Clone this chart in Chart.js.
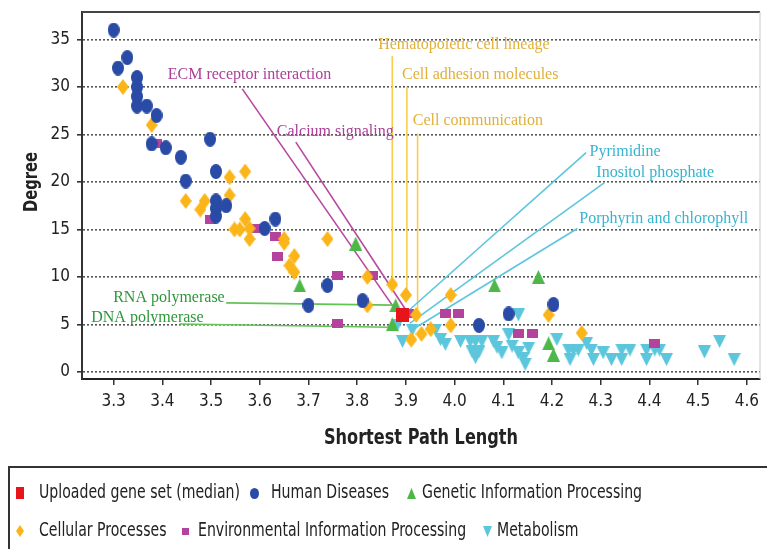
<!DOCTYPE html>
<html>
<head>
<meta charset="utf-8">
<script src="https://cdn.jsdelivr.net/npm/chart.js@4.4.0/dist/chart.umd.min.js"></script>
<style>
html, body { margin: 0; padding: 0; background: #fff; }
#wrap { width: 767px; height: 549px; position: relative; }
</style>
</head>
<body>
<div id="wrap"><canvas id="chart"></canvas></div>
<script>
var xTicks = [3.3, 3.4, 3.5, 3.6, 3.7, 3.8, 3.9, 4.0, 4.1, 4.2, 4.3, 4.4, 4.5, 4.6];
var yTicks = [0, 5, 10, 15, 20, 25, 30, 35];

var seriesNames = ['Uploaded gene set (median)', 'Human Diseases', 'Genetic Information Processing',
                   'Cellular Processes', 'Environmental Information Processing', 'Metabolism'];

var uploadedX = [3.893];
var uploadedY = [6.0];

var humanX = [3.300, 3.309, 3.328, 3.348, 3.348, 3.348, 3.348, 3.368, 3.388, 3.378, 3.407, 3.438, 3.448, 3.498,
              3.510, 3.510, 3.510, 3.510, 3.531, 3.610, 3.632, 3.739, 3.700, 3.811, 4.050, 4.111, 4.203];
var humanY = [36.0, 32.0, 33.1, 31.0, 30.0, 29.0, 28.0, 28.0, 27.0, 24.0, 23.6, 22.6, 20.1, 24.5,
              21.1, 18.0, 17.2, 16.4, 17.5, 15.1, 16.1, 9.1, 7.0, 7.5, 4.9, 6.1, 7.1];

var geneticX = [3.682, 3.797, 3.879, 3.872, 4.082, 4.172, 4.193, 4.203];
var geneticY = [9.1, 13.5, 7.0, 5.0, 9.1, 10.0, 3.0, 1.8];

var cellularX = [3.319, 3.378, 3.448, 3.478, 3.487, 3.538, 3.570, 3.538, 3.548, 3.559, 3.570, 3.579, 3.579, 3.650,
                 3.650, 3.671, 3.661, 3.671, 3.739, 3.821, 3.821, 3.872, 3.900, 3.921, 3.911, 3.932, 3.951, 3.992,
                 3.992, 4.193, 4.261];
var cellularY = [30.0, 26.0, 18.0, 17.1, 18.0, 20.5, 21.1, 18.6, 15.0, 15.0, 16.1, 15.1, 14.0, 14.0,
                 13.6, 12.2, 11.2, 10.5, 14.0, 10.0, 7.0, 9.2, 8.1, 6.0, 3.4, 4.0, 4.5, 8.1,
                 4.9, 6.0, 4.1];

var envX = [3.388, 3.499, 3.589, 3.633, 3.637, 3.760, 3.832, 3.760, 3.905, 3.981, 4.009, 4.131, 4.160, 4.411];
var envY = [24.0, 16.0, 15.1, 14.3, 12.1, 10.2, 10.2, 5.1, 6.2, 6.1, 6.1, 4.0, 4.0, 3.0];

var metaX = [3.882, 3.893, 3.913, 3.961, 3.971, 3.981, 4.012, 4.032, 4.043, 4.056, 4.036, 4.050, 4.043, 4.080,
             4.087, 4.097, 4.111, 4.118, 4.131, 4.131, 4.141, 4.145, 4.152, 4.210, 4.234, 4.244, 4.254, 4.237,
             4.271, 4.281, 4.285, 4.305, 4.322, 4.343, 4.360, 4.343, 4.394, 4.394, 4.411, 4.421, 4.435, 4.513,
             4.544, 4.574];
var metaY = [4.9, 3.2, 4.4, 4.4, 3.4, 2.9, 3.2, 3.2, 3.2, 3.2, 2.1, 2.1, 1.5, 3.2,
             2.6, 2.0, 3.9, 2.7, 6.0, 2.0, 1.4, 0.8, 2.5, 3.4, 2.3, 2.3, 2.3, 1.3,
             3.0, 2.3, 1.3, 2.0, 1.3, 2.3, 2.3, 1.3, 2.3, 1.3, 2.3, 2.3, 1.3, 2.1,
             3.2, 1.3];

// pathway call-outs: label, where the text sits, and the line from the label to its point
var annoText = ['ECM receptor interaction', 'Calcium signaling', 'Hematopoietic cell lineage',
                'Cell adhesion molecules', 'Cell communication', 'Pyrimidine', 'Inositol phosphate',
                'Porphyrin and chlorophyll', 'RNA polymerase', 'DNA polymerase'];
var annoCat = ['env', 'env', 'cell', 'cell', 'cell', 'meta', 'meta', 'meta', 'gen', 'gen'];
var annoTextX = [3.411, 3.635, 3.843, 3.892, 3.914, 4.277, 4.291, 4.256, 3.299, 3.254];
var annoTextY = [31.27, 25.3, 34.4, 31.27, 26.44, 23.19, 20.99, 16.16, 7.76, 5.67];
var annoFromX = [3.564, 3.674, 3.872, 3.902, 3.924, 4.270, 4.307, 4.252, 3.531, 3.435];
var annoFromY = [29.8, 24.2, 33.26, 30.0, 25.1, 23.1, 19.9, 15.1, 7.27, 5.04];
var annoToX = [3.879, 3.904, 3.872, 3.902, 3.924, 3.900, 3.908, 3.918, 3.877, 3.869];
var annoToY = [6.5, 6.2, 9.3, 8.1, 6.0, 6.2, 5.1, 4.6, 7.03, 4.7];

var SANS = '"DejaVu Sans Condensed", "DejaVu Sans", sans-serif';
var SERIF = '"Liberation Serif", "DejaVu Serif", serif';

var textColors = { env: '#ad3f99', cell: '#e0b03a', meta: '#36b4cf', gen: '#2e963a' };
var lineColors = { env: '#b8479f', cell: '#f9cd4c', meta: '#5cc6dc', gen: '#63c455' };

var colors = ['#e8141c', '#2a4ba5', '#4db848', '#fbb519', '#b4439e', '#5bc6dc'];
var shapes = ['rect', 'ellipse', 'triangle', 'diamond', 'rect', 'triangleDown'];
var plotSizes = [[13, 14], [12, 15], [13, 14], [12, 16], [11, 9], [13, 13]];
var legendSizes = [[8, 12], [9, 11], [9, 11], [8, 12], [7, 7], [9, 11]];

function shapePath(c, kind, w, h) {
    c.beginPath();
    if (kind === 'rect') {
        c.rect(0, 0, w, h);
    } else if (kind === 'ellipse') {
        c.ellipse(w / 2, h / 2, w / 2, h / 2, 0, 0, Math.PI * 2);
    } else if (kind === 'triangle') {
        c.moveTo(w / 2, 0); c.lineTo(w, h); c.lineTo(0, h);
    } else if (kind === 'triangleDown') {
        c.moveTo(0, 0); c.lineTo(w, 0); c.lineTo(w / 2, h);
    } else if (kind === 'diamond') {
        c.moveTo(w / 2, 0); c.lineTo(w, h / 2); c.lineTo(w / 2, h); c.lineTo(0, h / 2);
    }
    c.closePath();
}

function makeMarker(kind, size, color) {
    var cv = document.createElement('canvas');
    cv.width = size[0];
    cv.height = size[1];
    var c = cv.getContext('2d');
    c.fillStyle = color;
    shapePath(c, kind, size[0], size[1]);
    c.fill();
    return cv;
}

function pts(xs, ys) {
    return xs.map(function(x, i) { return { x: x, y: ys[i] }; });
}

var allX = [uploadedX, humanX, geneticX, cellularX, envX, metaX];
var allY = [uploadedY, humanY, geneticY, cellularY, envY, metaY];

var datasets = seriesNames.map(function(name, i) {
    return {
        label: name,
        data: pts(allX[i], allY[i]),
        pointStyle: makeMarker(shapes[i], plotSizes[i], colors[i]),
        legendMarker: makeMarker(shapes[i], legendSizes[i], colors[i]),
        pointRadius: 7,
        backgroundColor: colors[i],
        borderColor: colors[i],
        borderWidth: 0
    };
});

var calloutPlugin = {
    id: 'callouts',
    beforeDatasetsDraw: function(chart) {
        var ctx = chart.ctx, xs = chart.scales.x, ys = chart.scales.y;
        ctx.save();
        ctx.lineWidth = 1.6;
        for (var i = 0; i < annoText.length; i++) {
            ctx.strokeStyle = lineColors[annoCat[i]];
            ctx.beginPath();
            ctx.moveTo(xs.getPixelForValue(annoFromX[i]), ys.getPixelForValue(annoFromY[i]));
            ctx.lineTo(xs.getPixelForValue(annoToX[i]), ys.getPixelForValue(annoToY[i]));
            ctx.stroke();
        }
        ctx.restore();
    },
    afterDatasetsDraw: function(chart) {
        var ctx = chart.ctx, xs = chart.scales.x, ys = chart.scales.y;
        ctx.save();
        ctx.font = '16px ' + SERIF;
        ctx.textAlign = 'left';
        ctx.textBaseline = 'middle';
        for (var i = 0; i < annoText.length; i++) {
            ctx.fillStyle = textColors[annoCat[i]];
            ctx.fillText(annoText[i], xs.getPixelForValue(annoTextX[i]), ys.getPixelForValue(annoTextY[i]));
        }
        ctx.restore();
    }
};

// squeeze text to a given width (the original uses a condensed face)
function squeezedText(ctx, text, x, y, width, rot) {
    var w = ctx.measureText(text).width;
    ctx.save();
    ctx.translate(x, y);
    if (rot) ctx.rotate(rot);
    ctx.scale(width / w, 1);
    ctx.fillText(text, 0, 0);
    ctx.restore();
}

var legendSpots = [[20, 39, 493], [254, 271, 493], [411, 422, 493],
                   [20, 39, 531], [185, 198, 531], [487, 497, 531]];

var framePlugin = {
    id: 'frame',
    afterDraw: function(chart) {
        var ctx = chart.ctx, a = chart.chartArea;
        ctx.save();
        ctx.strokeStyle = '#444';
        ctx.lineWidth = 2;
        ctx.beginPath();
        ctx.moveTo(a.left, a.top);
        ctx.lineTo(a.right, a.top);
        ctx.stroke();
        ctx.strokeStyle = '#c8c8c8';
        ctx.lineWidth = 1;
        ctx.beginPath();
        ctx.moveTo(a.right, a.top);
        ctx.lineTo(a.right, a.bottom);
        ctx.stroke();

        // axis titles
        ctx.fillStyle = '#222';
        ctx.textAlign = 'center';
        ctx.textBaseline = 'middle';
        ctx.font = 'bold 22px ' + SANS;
        squeezedText(ctx, 'Shortest Path Length', (a.left + a.right) / 2, 438, 194, 0);
        ctx.font = 'bold 20px ' + SANS;
        squeezedText(ctx, 'Degree', 32, 182, 60, -Math.PI / 2);

        // legend box
        ctx.strokeStyle = '#333';
        ctx.lineWidth = 2;
        ctx.strokeRect(9, 467, 770, 100);

        ctx.font = '20px ' + SANS;
        ctx.textAlign = 'left';
        var squeeze = 201 / ctx.measureText(chart.data.datasets[0].label).width;
        chart.data.datasets.forEach(function(ds, i) {
            var s = legendSpots[i];
            var m = ds.legendMarker;
            ctx.drawImage(m, Math.round(s[0] - m.width / 2), Math.round(s[2] - m.height / 2));
            ctx.fillStyle = '#222';
            squeezedText(ctx, ds.label, s[1], s[2], ctx.measureText(ds.label).width * squeeze, 0);
        });
        ctx.restore();
    }
};

Chart.defaults.font.family = SANS;

var ctx = document.getElementById('chart');
window.myChart = new Chart(ctx, {
    type: 'scatter',
    data: { datasets: datasets },
    options: {
        responsive: true,
        maintainAspectRatio: false,
        animation: false,
        layout: { padding: { top: 12, right: 2, bottom: 90, left: 0 } },
        plugins: {
            legend: { display: false },
            tooltip: { enabled: false }
        },
        scales: {
            x: {
                type: 'linear',
                min: 3.235,
                max: 4.627,
                afterBuildTicks: function(scale) {
                    scale.ticks = xTicks.map(function(v) { return { value: v }; });
                },
                afterFit: function(scale) {
                    scale.height = 80;
                    scale.paddingLeft = 0;
                    scale.paddingRight = 0;
                },
                ticks: {
                    autoSkip: false,
                    maxRotation: 0,
                    padding: 6,
                    color: '#222',
                    font: { size: 17 },
                    callback: function(v) { return v.toFixed(1); }
                },
                grid: { drawOnChartArea: false, tickLength: 6, tickColor: '#333', lineWidth: 1.5 },
                border: { display: true, color: '#222', width: 2 }
            },
            y: {
                min: -0.75,
                max: 37.9,
                afterBuildTicks: function(scale) {
                    scale.ticks = yTicks.map(function(v) { return { value: v }; });
                },
                afterFit: function(scale) {
                    scale.width = 82;
                    scale.paddingTop = 0;
                    scale.paddingBottom = 0;
                },
                ticks: { padding: 7, color: '#222', font: { size: 17 } },
                grid: { color: '#555', lineWidth: 1.6, tickColor: '#333', tickLength: 5, tickBorderDash: [] },
                border: { display: true, color: '#333', width: 2, dash: [2, 2] }
            }
        }
    },
    plugins: [calloutPlugin, framePlugin]
});
</script>
</body>
</html>
